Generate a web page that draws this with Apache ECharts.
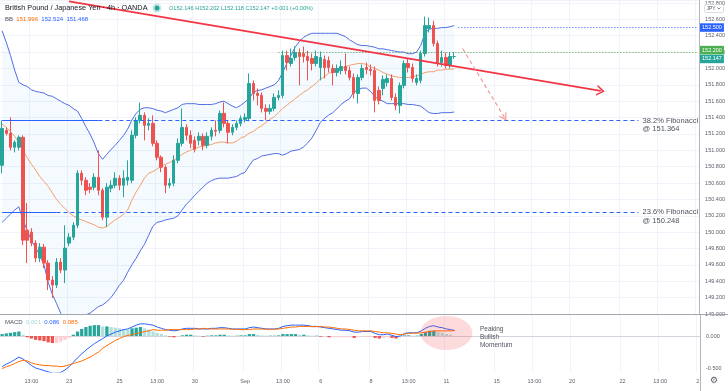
<!DOCTYPE html>
<html><head><meta charset="utf-8">
<script src="https://cdn.jsdelivr.net/npm/echarts@6/dist/echarts.min.js"></script>
<style>html,body{margin:0;padding:0;background:#fff}#c{width:728px;height:391px}</style>
</head><body><div id="c"></div><script>
// ---------- data ----------
const slotCount = 167;
const categories = []; for (let i = 0; i < slotCount; i++) categories.push(String(i));
const tickIndex  = [7, 16, 28, 37, 46, 58, 67, 76, 88, 97, 106, 118, 127, 136, 148, 157, 166];
const tickLabels = ['13:00','23','25','13:00','30','Sep','13:00','6','8','13:00','11','15','13:00','20','22','13:00','2'];

const open = [150.817,151.244,151.207,151.037,151.037,151.159,150.024,150.000,149.866,149.683,
 149.817,149.622,149.415,149.354,149.634,149.537,149.866,149.939,150.085,150.720,
 150.634,150.549,150.549,150.671,150.512,150.183,150.537,150.573,150.659,150.573,
 150.634,150.634,151.183,151.366,151.427,151.305,151.329,151.085,150.915,150.793,
 150.573,150.598,150.878,151.085,151.280,151.183,151.122,151.122,151.171,151.061,
 151.171,151.244,151.244,151.451,151.329,151.220,151.280,151.329,151.378,151.390,
 151.817,151.695,151.671,151.512,151.476,151.512,151.646,151.671,152.158,152.061,
 152.134,152.195,152.183,152.146,152.122,152.061,152.012,152.110,152.098,152.000,
 151.951,151.976,152.024,151.976,151.890,151.695,151.890,152.012,151.988,151.976,
 151.732,151.756,151.829,151.878,151.646,151.549,151.793,152.061,152.012,151.829,
 151.854,152.183,152.488,152.524,152.305,152.073,152.134,152.037,152.146];
const close = [151.268,151.207,151.037,151.098,151.159,149.902,149.902,149.866,149.683,149.817,
 149.622,149.415,149.354,149.634,149.537,149.805,149.939,150.085,150.720,150.634,
 150.512,150.524,150.671,150.512,150.183,150.549,150.573,150.659,150.573,150.659,
 150.671,151.183,151.366,151.427,151.305,151.329,151.085,150.915,150.793,150.573,
 150.598,150.878,151.085,151.280,151.183,151.085,151.012,151.171,151.061,151.171,
 151.244,151.232,151.451,151.329,151.220,151.280,151.329,151.390,151.402,151.817,
 151.695,151.671,151.512,151.476,151.512,151.646,151.671,152.158,152.073,152.122,
 152.195,152.146,152.146,152.098,152.061,152.146,152.134,152.012,152.012,151.951,
 152.000,152.024,151.976,151.890,151.695,151.890,152.000,151.988,151.976,151.610,
 151.610,151.866,151.878,151.646,151.549,151.793,152.061,152.012,151.878,151.878,
 152.183,152.524,152.524,152.305,152.073,152.134,152.037,152.146,152.147];
const low = [150.720,151.183,151.000,150.975,151.000,149.841,149.622,149.829,149.634,149.634,
 149.561,149.292,149.195,149.317,149.500,149.378,149.829,149.902,150.049,150.573,
 150.451,150.476,150.512,150.451,150.146,150.061,150.488,150.537,150.512,150.427,
 150.573,150.598,151.146,151.329,151.122,151.244,151.049,150.878,150.732,150.476,
 150.537,150.561,150.841,151.049,151.122,151.024,150.975,151.061,151.000,151.024,
 151.122,151.171,151.207,151.280,151.085,151.183,151.244,151.293,151.341,151.354,
 151.610,151.549,151.463,151.366,151.439,151.476,151.610,151.634,151.976,152.024,
 152.098,151.793,152.073,151.854,151.976,152.024,151.854,151.878,151.951,151.793,
 151.902,151.927,151.927,151.854,151.634,151.573,151.854,151.927,151.915,151.463,
 151.561,151.671,151.780,151.610,151.488,151.451,151.756,151.951,151.829,151.793,
 151.817,152.146,152.439,152.268,152.024,152.024,152.000,152.000,152.118];
const high = [151.366,151.280,151.402,151.122,151.183,151.183,150.354,150.049,149.902,149.866,
 149.854,149.658,149.463,149.683,149.683,150.085,149.988,150.122,150.756,150.756,
 150.671,150.598,150.720,151.000,150.537,150.598,150.634,150.732,150.695,150.756,
 150.878,151.244,151.402,151.585,151.463,151.390,151.427,151.122,150.939,150.817,
 150.659,150.939,151.146,151.512,151.317,151.244,151.171,151.220,151.207,151.220,
 151.280,151.366,151.488,151.585,151.366,151.317,151.366,151.427,151.451,151.939,
 151.854,151.756,151.707,151.561,151.561,151.695,151.732,152.219,152.219,152.244,
 152.268,152.244,152.268,152.219,152.183,152.219,152.207,152.158,152.146,152.049,
 152.049,152.098,152.183,152.024,151.939,151.927,152.049,152.073,152.049,152.024,
 151.780,151.915,151.927,151.927,151.695,151.829,152.098,152.122,152.061,151.927,
 152.219,152.634,152.622,152.585,152.341,152.219,152.195,152.195,152.202];

const bbUpper = [152.46,152.32,152.16,151.98,151.83,151.80,151.78,151.74,151.72,151.71,
 151.70,151.67,151.66,151.63,151.60,151.57,151.55,151.51,151.48,151.39,
 151.29,151.20,151.09,150.96,150.89,150.95,151.01,151.06,151.12,151.18,
 151.26,151.37,151.45,151.50,151.52,151.52,151.51,151.49,151.48,151.46,
 151.48,151.50,151.52,151.56,151.57,151.57,151.57,151.56,151.56,151.56,
 151.56,151.57,151.59,151.60,151.57,151.54,151.52,151.55,151.59,151.63,
 151.71,151.73,151.74,151.76,151.78,151.80,151.85,151.95,152.06,152.16,
 152.26,152.33,152.38,152.41,152.43,152.43,152.43,152.43,152.43,152.43,
 152.43,152.41,152.39,152.35,152.32,152.29,152.28,152.28,152.27,152.26,
 152.24,152.24,152.23,152.22,152.21,152.20,152.20,152.18,152.18,152.20,
 152.28,152.43,152.48,152.49,152.49,152.50,152.50,152.51,152.524];
const bbBasis = [151.32,151.28,151.23,151.17,151.10,151.00,150.91,150.83,150.76,150.68,
 150.62,150.56,150.48,150.40,150.34,150.29,150.24,150.20,150.17,150.15,
 150.13,150.11,150.09,150.06,150.05,150.07,150.11,150.15,150.18,150.22,
 150.27,150.39,150.49,150.57,150.66,150.72,150.74,150.77,150.81,150.83,
 150.85,150.88,150.91,150.95,150.98,151.00,151.02,151.04,151.05,151.06,
 151.07,151.09,151.10,151.10,151.09,151.09,151.11,151.15,151.17,151.21,
 151.23,151.27,151.30,151.34,151.38,151.41,151.46,151.51,151.55,151.59,
 151.63,151.67,151.71,151.74,151.78,151.82,151.87,151.90,151.94,151.96,
 151.99,152.00,152.02,152.04,152.05,152.06,152.06,152.05,152.02,152.00,
 151.98,151.95,151.93,151.91,151.90,151.89,151.89,151.89,151.90,151.91,
 151.93,151.95,151.96,151.96,151.98,151.98,151.99,151.99,151.996];
const bbLower = [150.12,150.17,150.22,150.27,150.31,150.15,150.02,149.90,149.81,149.72,
 149.60,149.39,149.24,149.13,149.01,148.90,148.81,148.77,148.81,148.90,
 148.99,149.01,149.05,149.09,149.11,149.15,149.20,149.27,149.35,149.41,
 149.51,149.60,149.68,149.77,149.85,149.96,150.07,150.12,150.13,150.15,
 150.16,150.17,150.20,150.27,150.34,150.39,150.45,150.50,150.55,150.60,
 150.63,150.65,150.66,150.66,150.66,150.67,150.68,150.71,150.73,150.81,
 150.88,150.90,150.93,150.94,150.95,150.96,150.96,150.94,150.96,150.99,
 151.00,151.01,151.04,151.09,151.15,151.24,151.34,151.39,151.43,151.46,
 151.51,151.56,151.60,151.63,151.71,151.74,151.76,151.76,151.72,151.66,
 151.62,151.60,151.57,151.57,151.57,151.57,151.57,151.56,151.56,151.55,
 151.54,151.50,151.46,151.45,151.45,151.46,151.46,151.46,151.468];

const macdHist = [0.03,0.04,0.05,0.06,0.07,0.02,-0.02,-0.04,-0.06,-0.07,
 -0.08,-0.10,-0.11,-0.11,-0.09,-0.06,-0.03,0.02,0.07,0.11,
 0.14,0.16,0.17,0.17,0.15,0.15,0.14,0.13,0.12,0.11,
 0.10,0.12,0.13,0.14,0.12,0.10,0.07,0.05,0.03,0.01,
 -0.01,-0.02,-0.01,0.01,0.02,0.02,0.01,0.005,-0.01,0.005,
 0.01,0.01,0.02,0.02,0.01,0.005,0.005,0.01,0.01,0.03,
 0.03,0.02,0.01,0.005,0.005,0.005,0.01,0.03,0.03,0.03,
 0.03,0.02,0.02,0.01,0.005,0.005,-0.01,-0.01,-0.02,-0.02,
 -0.02,-0.02,-0.02,-0.02,-0.03,-0.02,-0.01,-0.01,-0.01,-0.03,
 -0.04,-0.03,-0.02,-0.03,-0.04,-0.02,0.01,0.01,0.005,0.005,
 0.03,0.06,0.08,0.08,0.06,0.05,0.03,0.02,0.001];
const macdLine = [-0.48,-0.44,-0.41,-0.37,-0.33,-0.36,-0.41,-0.46,-0.50,-0.52,
 -0.54,-0.56,-0.58,-0.58,-0.57,-0.53,-0.48,-0.41,-0.34,-0.28,
 -0.22,-0.17,-0.12,-0.08,-0.04,0.00,0.03,0.06,0.08,0.10,
 0.11,0.14,0.17,0.19,0.19,0.18,0.17,0.14,0.12,0.10,
 0.09,0.08,0.09,0.11,0.12,0.12,0.12,0.11,0.11,0.11,
 0.12,0.12,0.13,0.13,0.12,0.11,0.11,0.11,0.11,0.13,
 0.14,0.13,0.12,0.11,0.11,0.11,0.12,0.15,0.16,0.17,
 0.17,0.17,0.17,0.16,0.15,0.15,0.14,0.13,0.12,0.11,
 0.10,0.09,0.09,0.08,0.06,0.06,0.07,0.07,0.07,0.04,
 0.02,0.02,0.03,0.01,-0.01,0.00,0.04,0.05,0.05,0.05,
 0.08,0.12,0.15,0.16,0.14,0.13,0.11,0.10,0.086];
const macdSignal = [-0.51,-0.48,-0.46,-0.43,-0.40,-0.38,-0.39,-0.42,-0.44,-0.45,
 -0.46,-0.46,-0.47,-0.47,-0.48,-0.47,-0.45,-0.43,-0.41,-0.39,
 -0.36,-0.33,-0.29,-0.25,-0.19,-0.15,-0.11,-0.07,-0.04,-0.01,
 0.01,0.02,0.04,0.05,0.07,0.08,0.10,0.09,0.09,0.09,
 0.10,0.10,0.10,0.10,0.10,0.10,0.11,0.11,0.12,0.11,
 0.11,0.11,0.11,0.11,0.11,0.105,0.105,0.10,0.10,0.10,
 0.11,0.11,0.11,0.105,0.105,0.105,0.11,0.12,0.13,0.14,
 0.14,0.15,0.15,0.15,0.145,0.145,0.15,0.14,0.14,0.13,
 0.12,0.11,0.11,0.10,0.09,0.08,0.08,0.08,0.08,0.07,
 0.06,0.05,0.05,0.04,0.03,0.02,0.03,0.04,0.045,0.045,
 0.05,0.06,0.07,0.08,0.08,0.08,0.08,0.08,0.085];

const fib382 = 151.364, fib236 = 150.248;
const level500 = 152.500, level200 = 152.200, lastPrice = 152.147;
const trendStart = [16, 152.82], trendEnd = [143, 151.726];
const projStart = [110, 152.244], projEnd = [120, 151.402];

// ---------- chart ----------
const FONT = '"Liberation Sans", Arial, sans-serif';
const UP = '#26a69a', DOWN = '#ef5350', BLUE = '#2962ff';
const labelMap = {}; tickIndex.forEach((k, j) => { labelMap[k] = tickLabels[j]; });
const candleData = open.map((o, i) => [o, close[i], low[i], high[i]]);
const bbSpan = bbUpper.map((u, i) => +(u - bbLower[i]).toFixed(4));
function histColor(i) {
  const h = macdHist[i], p = i > 0 ? macdHist[i - 1] : h;
  if (h >= 0) return h >= p ? '#26a69a' : '#b2dfdb';
  return h < p ? '#ef5350' : '#ffcdd2';
}
const histData = macdHist.map((h, i) => ({ value: h, itemStyle: { color: histColor(i) } }));
const chevron = 'path://M0,10 L5,0 L10,10 L8.4,10 L5,3.2 L1.6,10 Z';
const noLbl = { show: false };
const badge = (txt, bg, dy) => ({ show: true, position: 'end', distance: 3, offset: [0, dy], formatter: txt,
  backgroundColor: bg, color: '#fff', fontSize: 5.5, padding: [1.5, 2, 1, 2], fontFamily: FONT });

const chart = echarts.init(document.getElementById('c'), null, { renderer: 'canvas' });
const xBase = {
  type: 'category', data: categories, boundaryGap: true,
  axisTick: { show: false },
  splitLine: { show: true, interval: (i) => (i in labelMap), lineStyle: { color: '#f0f3fa', width: 1 } }
};
const option = {
  animation: false,
  backgroundColor: '#ffffff',
  textStyle: { fontFamily: FONT },
  grid: [
    { left: 0, right: 28, top: 0, height: 314 },
    { left: 0, right: 28, top: 315, height: 57 }
  ],
  xAxis: [
    Object.assign({}, xBase, { gridIndex: 0, axisLine: { show: false }, axisLabel: { show: false } }),
    Object.assign({}, xBase, {
      gridIndex: 1,
      axisLine: { show: true, lineStyle: { color: '#d1d4dc' } },
      axisLabel: { interval: (i) => (i in labelMap), formatter: (v, i) => labelMap[i] || '',
        fontSize: 5.5, color: '#5d606b', margin: 6, fontFamily: FONT, hideOverlap: false }
    })
  ],
  yAxis: [
    { type: 'value', gridIndex: 0, position: 'right', min: 149, max: 152.829, interval: 0.2,
      axisLine: { show: true, lineStyle: { color: '#b2b5be' } }, axisTick: { show: false },
      axisLabel: { fontSize: 5.5, color: '#5d606b', margin: 6, fontFamily: FONT, showMaxLabel: false,
        formatter: (v) => v.toFixed(3) },
      splitLine: { show: true, lineStyle: { color: '#f0f3fa' } } },
    { type: 'value', gridIndex: 1, position: 'right', min: -0.5625, max: 0.328,
      axisLine: { show: true, lineStyle: { color: '#b2b5be' } }, axisTick: { show: false },
      axisLabel: { customValues: [-0.5, 0], fontSize: 5.5, color: '#5d606b', margin: 6, fontFamily: FONT,
        formatter: (v) => v.toFixed(3) },
      splitLine: { show: false } }
  ],
  series: [
    { type: 'line', data: bbLower, stack: 'bb', symbol: 'none', silent: true,
      lineStyle: { opacity: 0 }, z: 1 },
    { type: 'line', data: bbSpan, stack: 'bb', symbol: 'none', silent: true,
      lineStyle: { opacity: 0 }, areaStyle: { color: 'rgba(33,150,243,0.07)' }, z: 1 },
    { type: 'line', data: bbUpper, symbol: 'none', silent: true, lineStyle: { color: '#506ee6', width: 1 }, z: 2 },
    { type: 'line', data: bbLower, symbol: 'none', silent: true, lineStyle: { color: '#506ee6', width: 1 }, z: 2 },
    { type: 'line', data: bbBasis, symbol: 'none', silent: true, lineStyle: { color: '#f4a06b', width: 1 }, z: 2 },
    { type: 'candlestick', data: candleData, barWidth: 3, z: 3,
      itemStyle: { color: UP, color0: DOWN, borderColor: UP, borderColor0: DOWN, borderWidth: 1 },
      markLine: {
        silent: true, animation: false, symbol: ['none', 'none'], label: noLbl,
        data: [
          [{ coord: [0, fib382], lineStyle: { color: BLUE, width: 1.2, type: 'solid' } }, { coord: [23, fib382] }],
          [{ coord: [23, fib382], lineStyle: { color: BLUE, width: 1.2, type: [4, 3] } }, { coord: [152, fib382] }],
          [{ coord: [0, fib236], lineStyle: { color: BLUE, width: 1.2, type: 'solid' } }, { coord: [13, fib236] }],
          [{ coord: [13, fib236], lineStyle: { color: BLUE, width: 1.2, type: [4, 3] } }, { coord: [152, fib236] }],
          [{ coord: [109, level500], lineStyle: { color: BLUE, width: 1, type: [1, 2] },
             label: badge(level500.toFixed(3), BLUE, 0) }, { coord: [166, level500] }],
          [{ coord: [66, level200], lineStyle: { color: '#43a047', width: 1, type: [1, 2] },
             label: badge(level200.toFixed(3), '#4caf50', -2) }, { coord: [166, level200] }],
          [{ coord: [165, lastPrice], lineStyle: { color: 'rgba(0,0,0,0)', width: 0.5 },
             label: badge(lastPrice.toFixed(3), UP, 2.5) }, { coord: [166, lastPrice] }],
          [{ coord: trendStart, lineStyle: { color: '#f23645', width: 1.8, type: 'solid' }, symbol: 'none' },
           { coord: trendEnd, symbol: chevron, symbolSize: [11, 8] }],
          [{ coord: projStart, lineStyle: { color: '#f59a9a', width: 1.2, type: [4, 3] }, symbol: 'none' },
           { coord: projEnd, symbol: chevron, symbolSize: [9, 7] }]
        ]
      },
      markPoint: {
        silent: true, animation: false, symbol: 'circle', symbolSize: 0,
        data: [
          { coord: [153, fib382], label: { show: true, position: [0, -4], align: 'left', verticalAlign: 'top',
              formatter: '38.2% Fibonacci\n@ ' + fib382.toFixed(3), fontSize: 7.5, lineHeight: 8.5, color: '#50535e', fontFamily: FONT } },
          { coord: [153, fib236], label: { show: true, position: [0, -4], align: 'left', verticalAlign: 'top',
              formatter: '23.6% Fibonacci\n@ ' + fib236.toFixed(3), fontSize: 7.5, lineHeight: 8.5, color: '#50535e', fontFamily: FONT } }
        ]
      }
    },
    { type: 'bar', xAxisIndex: 1, yAxisIndex: 1, data: histData, barWidth: '78%', silent: true,
      markPoint: {
        silent: true, animation: false,
        data: [
          { coord: [106, 0.047], symbol: 'circle', symbolSize: [52, 34], itemStyle: { color: 'rgba(242,54,69,0.18)' }, label: noLbl },
          { coord: [114, 0.175], symbol: 'circle', symbolSize: 0,
            label: { show: true, position: [0, 0], align: 'left', verticalAlign: 'top', formatter: 'Peaking\nBullish\nMomentum',
              fontSize: 6.5, lineHeight: 8, color: '#50535e', fontFamily: FONT } }
        ]
      } },
    { type: 'line', xAxisIndex: 1, yAxisIndex: 1, data: macdLine, symbol: 'none', silent: true,
      lineStyle: { color: '#2962ff', width: 1 }, z: 3 },
    { type: 'line', xAxisIndex: 1, yAxisIndex: 1, data: macdSignal, symbol: 'none', silent: true,
      lineStyle: { color: '#ff6d00', width: 1 }, z: 3 }
  ],
  graphic: [
    { type: 'line', shape: { x1: 0, y1: 314.5, x2: 728, y2: 314.5 }, style: { stroke: '#a3a6af', lineWidth: 1.2 }, z: 50 },
    { type: 'line', shape: { x1: 700.5, y1: 372, x2: 700.5, y2: 391 }, style: { stroke: '#b2b5be', lineWidth: 1 }, z: 50 },
    { type: 'text', x: 5, y: 4, z: 60, style: { text: 'British Pound / Japanese Yen · 4h · OANDA', fill: '#131722',
        fontSize: 7.3, fontFamily: FONT } },
    { type: 'circle', shape: { cx: 157, cy: 8, r: 4.5 }, style: { fill: 'rgba(38,166,154,0.25)' }, z: 60 },
    { type: 'circle', shape: { cx: 157, cy: 8, r: 2.5 }, style: { fill: UP }, z: 61 },
    { type: 'text', x: 169, y: 5, z: 60, style: { text: 'O152.146 H152.202 L152.118 C152.147 +0.001 (+0.00%)', fill: UP,
        fontSize: 5.6, fontFamily: FONT } },
    { type: 'text', x: 5, y: 16.5, z: 60, style: { text: '{g|BB}  {o|151.996}  {b|152.524}  {b|151.468}', fontSize: 6, fontFamily: FONT,
        rich: { g: { fill: '#50535e', fontSize: 6 }, o: { fill: '#ff6d00', fontSize: 6 }, b: { fill: '#2962ff', fontSize: 6 } } } },
    { type: 'text', x: 5, y: 319, z: 60, style: { text: '{g|MACD}  {t|0.001}  {b|0.086}  {o|0.085}', fontSize: 6, fontFamily: FONT,
        rich: { g: { fill: '#50535e', fontSize: 6 }, t: { fill: '#9fd8d2', fontSize: 6 }, b: { fill: '#2962ff', fontSize: 6 }, o: { fill: '#ff6d00', fontSize: 6 } } } },
    { type: 'rect', shape: { x: 704.5, y: 4.5, width: 19, height: 8, r: 1.5 }, style: { fill: '#fff', stroke: '#d1d4dc', lineWidth: 0.8 }, z: 60 },
    { type: 'text', x: 706.5, y: 6, z: 61, style: { text: 'JPY', fill: '#50535e', fontSize: 5, fontFamily: FONT } },
    { type: 'polyline', shape: { points: [[717.5, 7.5], [719, 9], [720.5, 7.5]] }, style: { stroke: '#50535e', lineWidth: 0.7, fill: null }, z: 61 },
    { type: 'text', x: 710, y: 376, z: 60, style: { text: '⚙', fill: '#5d606b', fontSize: 9, fontFamily: '"DejaVu Sans"' } }
  ]
};
chart.setOption(option);
</script></body></html>
